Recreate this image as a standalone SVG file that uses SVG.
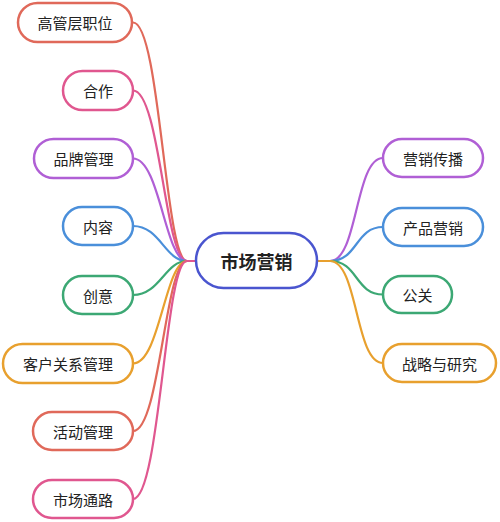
<svg xmlns="http://www.w3.org/2000/svg" width="500" height="522" viewBox="0 0 500 522">
<style>
.n{fill:#fff;stroke-width:2.5}
.t{font-family:"Noto Sans CJK SC","Noto Sans",sans-serif;font-size:15px;fill:#222;text-anchor:middle;dominant-baseline:central}
.c{fill:none;stroke-width:2.2}
.red{stroke:#e0695a}.pink{stroke:#e0578f}.pur{stroke:#b05fd5}.blue{stroke:#4a8fda}.grn{stroke:#3ca874}.org{stroke:#e8a02e}
</style>
<rect width="500" height="522" fill="#fff"/>
<g id="connectors">
<path class="c red" d="M133,22.5 C160,22.5 165,261 187,261 L196,261"/>
<path class="c pink" d="M133,90.5 C160,90.5 165,261 187,261 L196,261"/>
<path class="c pur" d="M133,158.5 C160,158.5 165,261 187,261 L196,261"/>
<path class="c blue" d="M133,226 C160,226 165,261 187,261 L196,261"/>
<path class="c grn" d="M133,295 C160,295 165,261 187,261 L196,261"/>
<path class="c org" d="M133,363.5 C160,363.5 165,261 187,261 L196,261"/>
<path class="c red" d="M133,431 C160,431 165,261 187,261 L196,261"/>
<path class="c pink" d="M133,499 C160,499 165,261 187,261 L196,261"/>
<path class="c pur" d="M317,261 L330,261 C358,261 355,158 383,158"/>
<path class="c blue" d="M317,261 L330,261 C358,261 355,227 383,227"/>
<path class="c grn" d="M317,261 L330,261 C358,261 355,294.5 383,294.5"/>
<path class="c org" d="M317,261 L330,261 C358,261 355,363 383,363"/>
</g>
<g id="center"><rect class="n" x="196" y="233" width="121" height="55" rx="27.5" stroke="#4a55cf"/><text class="t" x="256.5" y="260.5" style="font-size:18px;font-weight:bold">市场营销</text></g>
<g id="n1"><rect class="n red" x="18" y="3" width="114" height="39" rx="19.5"/><text class="t" x="75" y="22.5">高管层职位</text></g>
<g id="n2"><rect class="n pink" x="63" y="71" width="70" height="39" rx="19.5"/><text class="t" x="98" y="90.5">合作</text></g>
<g id="n3"><rect class="n pur" x="34" y="139" width="99" height="39" rx="19.5"/><text class="t" x="83.5" y="158.5">品牌管理</text></g>
<g id="n4"><rect class="n blue" x="63" y="207" width="70" height="38" rx="19"/><text class="t" x="98" y="226">内容</text></g>
<g id="n5"><rect class="n grn" x="63" y="276" width="70" height="38" rx="19"/><text class="t" x="98" y="295">创意</text></g>
<g id="n6"><rect class="n org" x="3" y="344" width="130" height="39" rx="19.5"/><text class="t" x="68" y="363.5">客户关系管理</text></g>
<g id="n7"><rect class="n red" x="33" y="412" width="100" height="38" rx="19"/><text class="t" x="83" y="431">活动管理</text></g>
<g id="n8"><rect class="n pink" x="33" y="480" width="100" height="38" rx="19"/><text class="t" x="83" y="499">市场通路</text></g>
<g id="r1"><rect class="n pur" x="383" y="139" width="100" height="38" rx="19"/><text class="t" x="433" y="158">营销传播</text></g>
<g id="r2"><rect class="n blue" x="383" y="208" width="100" height="38" rx="19"/><text class="t" x="433" y="227">产品营销</text></g>
<g id="r3"><rect class="n grn" x="383" y="276" width="69" height="37" rx="18.5"/><text class="t" x="417.5" y="294.5">公关</text></g>
<g id="r4"><rect class="n org" x="383" y="344" width="113" height="38" rx="19"/><text class="t" x="439.5" y="363">战略与研究</text></g>
</svg>
